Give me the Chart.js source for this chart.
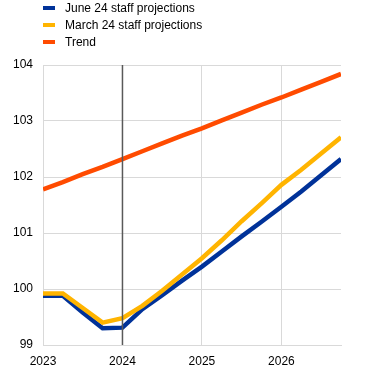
<!DOCTYPE html>
<html>
<head>
<meta charset="utf-8">
<script src="https://cdn.jsdelivr.net/npm/chart.js@4/dist/chart.umd.min.js"></script>
<style>
  body { margin: 0; background: #fff; }
  #wrap { position: relative; width: 370px; height: 373px; }
  #legend { position: absolute; left: 43px; top: 2px; font: 12px "Liberation Sans", Arial, sans-serif; color: #000; }
  #legend div { height: 17px; line-height: 13px; position: relative; padding-left: 22px; }
  #legend span { position: absolute; left: 0; top: 4px; width: 12px; height: 4px; }
</style>
</head>
<body>
<div id="wrap">
  <canvas id="myChart" width="370" height="373"></canvas>
  <div id="legend"></div>
</div>
<script>
// quarterly points, 2023 Q1 .. 2026 Q4
const quarters = [2023, 2023.25, 2023.5, 2023.75, 2024, 2024.25, 2024.5, 2024.75,
                  2025, 2025.25, 2025.5, 2025.75, 2026, 2026.25, 2026.5, 2026.75];
const june24 = [99.88, 99.88, 99.58, 99.30, 99.31, 99.64, 99.89, 100.15,
                100.40, 100.67, 100.94, 101.20, 101.47, 101.74, 102.03, 102.32];
const march24 = [99.92, 99.92, 99.66, 99.40, 99.48, 99.70, 99.97, 100.26,
                 100.55, 100.87, 101.21, 101.53, 101.86, 102.13, 102.42, 102.71];
const trend = [101.78, 101.91, 102.05, 102.18, 102.32, 102.46, 102.60, 102.74,
               102.87, 103.01, 103.15, 103.29, 103.42, 103.56, 103.70, 103.84];
const seriesNames = ['June 24 staff projections', 'March 24 staff projections', 'Trend'];
const seriesColors = ['#003299', '#FFB400', '#FF4B00'];
const markerYear = 2024;

function toPoints(values) {
    return values.map((v, i) => ({ x: quarters[i], y: v }));
}

const markerLine = {
    id: 'markerLine',
    afterDatasetsDraw(chart) {
        const ctx = chart.ctx;
        const x = chart.scales.x.getPixelForValue(markerYear);
        ctx.save();
        ctx.strokeStyle = '#595959';
        ctx.lineWidth = 1.5;
        ctx.beginPath();
        ctx.moveTo(x, chart.chartArea.top);
        ctx.lineTo(x, chart.chartArea.bottom);
        ctx.stroke();
        ctx.restore();
    }
};

Chart.defaults.font.family = '"Liberation Sans", Arial, sans-serif';
Chart.defaults.font.size = 12;
Chart.defaults.color = '#000';

const chart = new Chart(document.getElementById('myChart'), {
    type: 'line',
    data: {
        datasets: [
            { label: seriesNames[0], data: toPoints(june24), borderColor: seriesColors[0], order: 2 },
            { label: seriesNames[1], data: toPoints(march24), borderColor: seriesColors[1], order: 1 },
            { label: seriesNames[2], data: toPoints(trend), borderColor: seriesColors[2], order: 0 }
        ]
    },
    options: {
        responsive: false,
        animation: false,
        elements: {
            line: { borderWidth: 4.5, tension: 0, fill: false },
            point: { radius: 0 }
        },
        layout: { padding: { top: 65, right: 29, left: 0, bottom: 0 } },
        plugins: { legend: { display: false }, tooltip: { enabled: false } },
        scales: {
            x: {
                type: 'linear',
                min: 2023,
                max: 2026.75,
                afterFit: s => { s.height = 28; },
                grid: { color: '#d9d9d9', drawTicks: false },
                border: { color: '#d9d9d9' },
                ticks: { stepSize: 1, includeBounds: false, padding: 9, maxRotation: 0,
                         callback: v => String(v) }
            },
            y: {
                min: 99,
                max: 104,
                afterFit: s => { s.width = 43; },
                grid: { color: '#d9d9d9', drawTicks: false },
                border: { color: '#d9d9d9' },
                ticks: { stepSize: 1, padding: 10, callback: v => String(v) }
            }
        }
    },
    plugins: [markerLine]
});

// legend in original series order
const legend = document.getElementById('legend');
chart.data.datasets.forEach(ds => {
    const row = document.createElement('div');
    const box = document.createElement('span');
    box.style.background = ds.borderColor;
    row.appendChild(box);
    row.appendChild(document.createTextNode(ds.label));
    legend.appendChild(row);
});
</script>
</body>
</html>
